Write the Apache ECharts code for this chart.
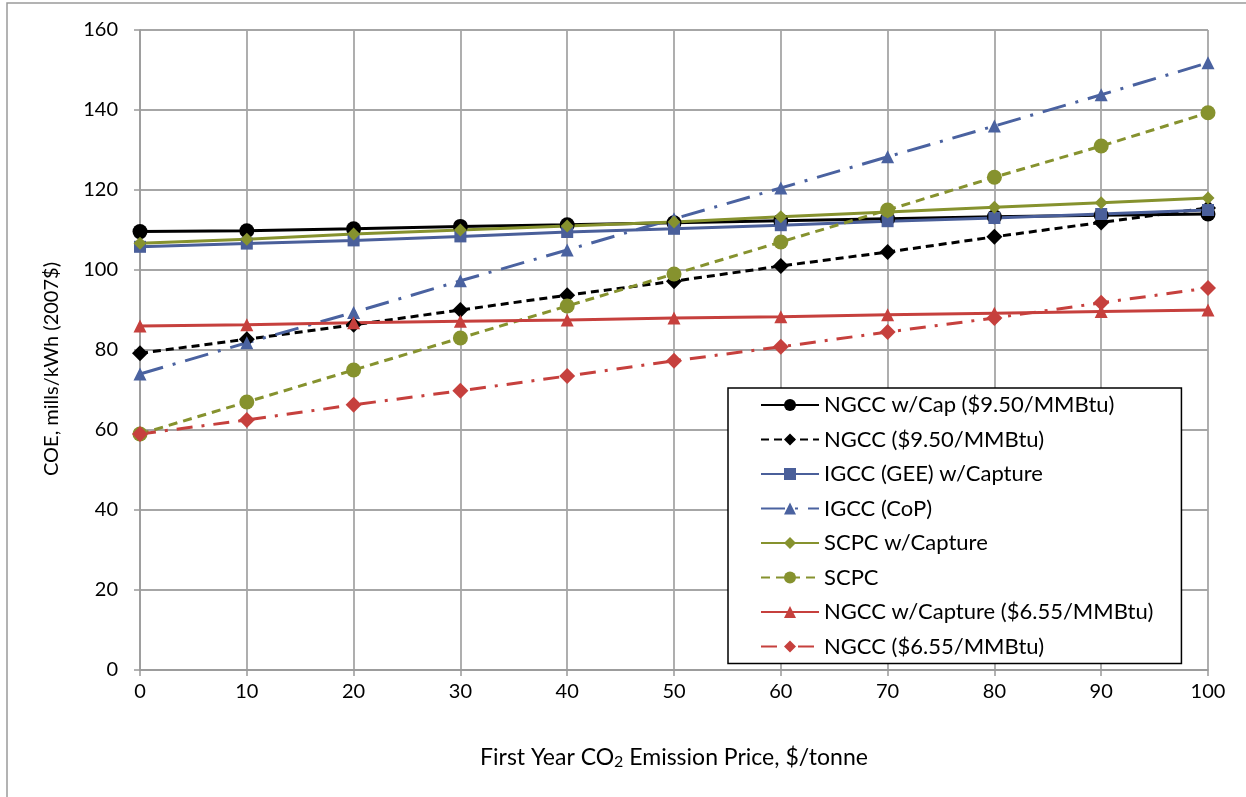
<!DOCTYPE html>
<html>
<head>
<meta charset="utf-8">
<script src="https://cdn.jsdelivr.net/npm/echarts@6/dist/echarts.min.js"></script>
<style>
    html, body { margin: 0; padding: 0; background: #fff; }
    #chart { width: 1246px; height: 797px; }
</style>
</head>
<body>
<div id="chart"></div>
<script>
    // CO2 price, $/tonne
    var prices = [0, 10, 20, 30, 40, 50, 60, 70, 80, 90, 100];

    // COE, mills/kWh (2007$)
    var ngccCap950 = [109.6, 109.8, 110.3, 110.9, 111.3, 111.8, 112.3, 112.8, 113.3, 113.7, 114.0];
    var ngcc950 = [79.2, 82.7, 86.3, 90.0, 93.7, 97.2, 101.0, 104.5, 108.3, 111.9, 115.5];
    var igccGeeCap = [105.8, 106.6, 107.4, 108.4, 109.5, 110.3, 111.2, 112.2, 113.0, 114.0, 115.0];
    var igccCop = [74.0, 81.8, 89.4, 97.3, 105.0, 112.8, 120.5, 128.3, 136.0, 143.8, 151.8];
    var scpcCap = [106.7, 107.7, 109.0, 110.0, 111.0, 112.0, 113.3, 114.5, 115.7, 116.8, 118.0];
    var scpc = [59.0, 67.0, 75.0, 83.0, 91.0, 99.0, 107.0, 115.0, 123.2, 131.0, 139.3];
    var ngccCap655 = [86.0, 86.3, 86.8, 87.2, 87.5, 88.0, 88.3, 88.8, 89.2, 89.6, 90.0];
    var ngcc655 = [59.0, 62.5, 66.3, 69.8, 73.5, 77.3, 80.8, 84.5, 88.0, 91.8, 95.5];

    var yTicks = [0, 20, 40, 60, 80, 100, 120, 140, 160];

    var fontName = 'Lato, "Open Sans", sans-serif';

    function pairs(vals) {
        return prices.map(function (p, i) { return [p, vals[i]]; });
    }

    function mkSeries(name, vals, color, dash, symbol, size) {
        return {
            name: name,
            type: 'line',
            data: pairs(vals),
            symbol: symbol,
            symbolSize: size,
            showAllSymbol: true,
            itemStyle: { color: color },
            lineStyle: { color: color, width: 3, type: dash },
            emphasis: { disabled: true },
            animation: false
        };
    }

    var chart = echarts.init(document.getElementById('chart'));
    chart.setOption({
        backgroundColor: '#fff',
        textStyle: { fontFamily: fontName },
        graphic: [{
            type: 'rect',
            shape: { x: 7, y: 3, width: 1300, height: 900 },
            style: { fill: 'none', stroke: '#9a9a9a', lineWidth: 1.5 },
            silent: true
        }],
        grid: { left: 140, right: 38, top: 30, bottom: 127 },
        xAxis: {
            type: 'value',
            min: 0,
            max: 100,
            interval: 10,
            name: 'First Year CO{sub|2} Emission Price, $/tonne',
            nameLocation: 'middle',
            nameGap: 75,
            nameTextStyle: {
                fontSize: 23, color: '#000', fontFamily: fontName,
                rich: { sub: { fontSize: 16, color: '#000', verticalAlign: 'bottom', padding: [9, 0, 0, 0], fontFamily: fontName } }
            },
            axisLine: { show: true, lineStyle: { color: '#999', width: 1.5 } },
            axisTick: { show: true, length: 6, lineStyle: { color: '#999', width: 1.5 } },
            axisLabel: { fontSize: 20, color: '#000', margin: 12, fontFamily: fontName },
            splitLine: { show: true, lineStyle: { color: '#a6a6a6', width: 1.8 } }
        },
        yAxis: {
            type: 'value',
            min: yTicks[0],
            max: yTicks[yTicks.length - 1],
            interval: 20,
            name: 'COE, mills/kWh (2007$)',
            nameLocation: 'middle',
            nameGap: 78,
            nameTextStyle: { fontSize: 20, color: '#000', fontFamily: fontName, padding: [0, 38, 0, 0] },
            axisLine: { show: true, lineStyle: { color: '#999', width: 1.5 } },
            axisTick: { show: true, length: 6, lineStyle: { color: '#999', width: 1.5 } },
            axisLabel: { fontSize: 20, color: '#000', margin: 22, fontFamily: fontName },
            splitLine: { show: true, lineStyle: { color: '#a6a6a6', width: 1.8 } }
        },
        legend: {
            orient: 'vertical',
            left: 728,
            top: 388,
            padding: [6, 28, 6, 32],
            itemGap: 12.5,
            itemWidth: 58,
            itemHeight: 15,
            backgroundColor: '#fff',
            borderColor: '#000',
            borderWidth: 1.5,
            borderRadius: 0,
            textStyle: { fontSize: 22, color: '#000', fontFamily: fontName },
            data: [
                'NGCC w/Cap ($9.50/MMBtu)',
                'NGCC ($9.50/MMBtu)',
                'IGCC (GEE) w/Capture',
                'IGCC (CoP)',
                'SCPC w/Capture',
                'SCPC',
                'NGCC w/Capture ($6.55/MMBtu)',
                'NGCC ($6.55/MMBtu)'
            ]
        },
        series: [
            mkSeries('NGCC w/Cap ($9.50/MMBtu)', ngccCap950, '#000000', 'solid', 'circle', 15),
            mkSeries('NGCC ($9.50/MMBtu)', ngcc950, '#000000', [8, 5], 'diamond', 16),
            mkSeries('IGCC (GEE) w/Capture', igccGeeCap, '#4a5f9a', 'solid', 'rect', 12),
            mkSeries('IGCC (CoP)', igccCop, '#4a62a0', [24, 10, 3, 10], 'triangle', 13),
            mkSeries('SCPC w/Capture', scpcCap, '#86922e', 'solid', 'diamond', 13),
            mkSeries('SCPC', scpc, '#86922e', [9, 6], 'circle', 15),
            mkSeries('NGCC w/Capture ($6.55/MMBtu)', ngccCap655, '#c6403d', 'solid', 'triangle', 13),
            mkSeries('NGCC ($6.55/MMBtu)', ngcc655, '#c6403d', [16, 9, 3, 9], 'diamond', 16)
        ]
    });
</script>
</body>
</html>
